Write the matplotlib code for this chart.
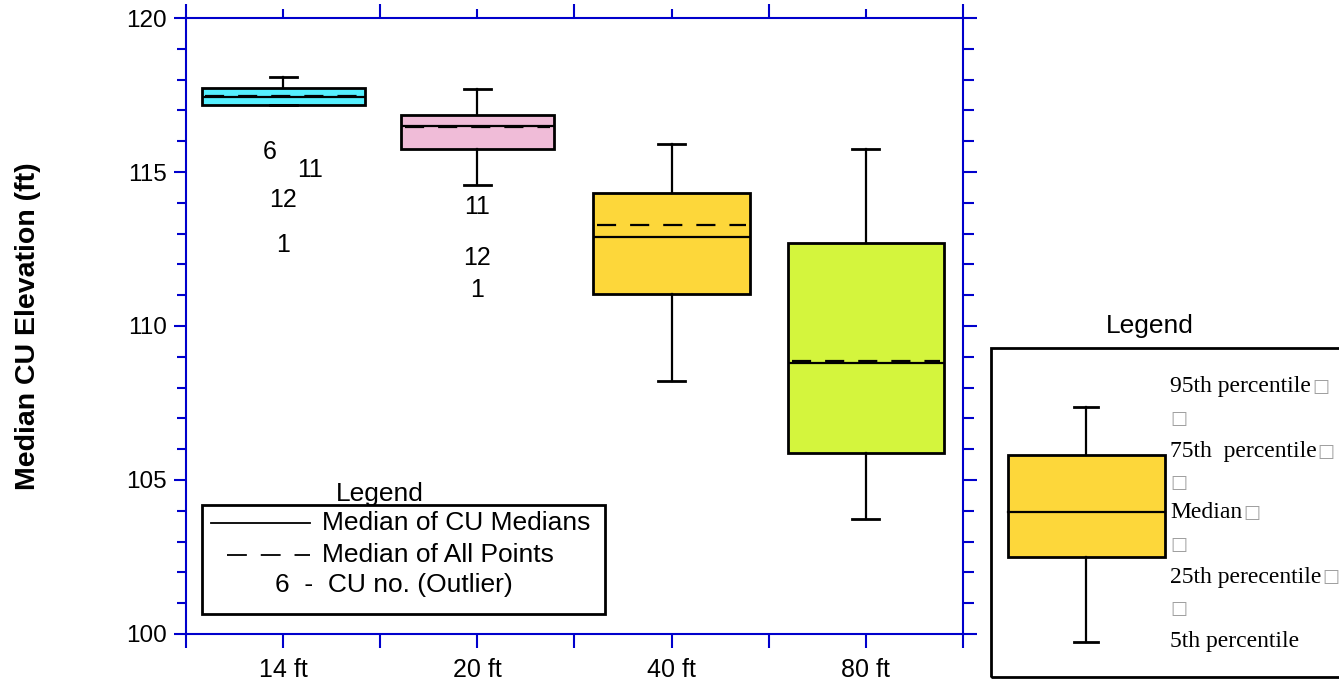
import numpy as np
import matplotlib.pyplot as plt
from matplotlib.patches import Rectangle
from matplotlib.lines import Line2D

# Median CU elevation statistics per spacing
categories = ["14 ft", "20 ft", "40 ft", "80 ft"]
p5 = [117.18, 114.58, 108.21, 103.73]
p25 = [117.18, 115.75, 111.04, 105.88]
median_cu = [117.44, 116.49, 112.89, 108.80]
median_all = [117.46, 116.46, 113.28, 108.86]
p75 = [117.73, 116.85, 114.32, 112.69]
p95 = [118.08, 117.69, 115.91, 115.75]
box_colors = ["#55F0FF", "#F0BCD8", "#FDD73A", "#D4F53D"]
box_widths = [0.84, 0.79, 0.81, 0.80]

# Outlying CUs: (category index, CU number, elevation)
outlier_cat = [0, 0, 0, 0, 1, 1, 1]
outlier_cu = ["6", "11", "12", "1", "11", "12", "1"]
outlier_val = [115.65, 115.06, 114.09, 112.63, 113.86, 112.21, 111.17]
outlier_dx = [-0.07, 0.14, 0.0, 0.0, 0.0, 0.0, 0.0]

blue = "#0000CC"
plt.rcParams["font.family"] = ["Liberation Sans", "DejaVu Sans"]

fig = plt.figure(figsize=(13.39, 6.85), dpi=100)
ax = fig.add_axes([0.1389, 0.0745, 0.5803, 0.8992])

pos = np.arange(1, len(categories) + 1)
stats = []
for i in range(len(categories)):
    stats.append(dict(med=median_cu[i], q1=p25[i], q3=p75[i],
                      whislo=p5[i], whishi=p95[i], fliers=[]))
bp = ax.bxp(stats, positions=pos, widths=box_widths, patch_artist=True,
            showfliers=False, capwidths=0.14,
            boxprops=dict(linewidth=2, edgecolor="black"),
            medianprops=dict(color="black", linewidth=1.6),
            whiskerprops=dict(color="black", linewidth=1.6),
            capprops=dict(color="black", linewidth=2))
for patch, c in zip(bp["boxes"], box_colors):
    patch.set_facecolor(c)

# median of all points
half = np.array(box_widths) / 2 - 0.02
ax.hlines(median_all, pos - half, pos + half, colors="black",
          linestyles=(0, (8.6, 6.3)), linewidth=1.6, zorder=4)

for ci, lab, v, dx in zip(outlier_cat, outlier_cu, outlier_val, outlier_dx):
    ax.text(pos[ci] + dx, v, lab, ha="center", va="center", fontsize=18)

ax.set_xlim(0.5, 4.5)
ax.set_ylim(100, 120)
ax.set_xticks(pos)
ax.set_xticklabels(categories, fontsize=18)
ax.set_xticks(np.arange(0.5, 4.6, 0.5), minor=True)
ax.set_yticks(np.arange(100, 121, 5))
ax.set_yticks(np.arange(100, 121, 1), minor=True)
ax.tick_params(axis="y", labelsize=17.5)
ax.tick_params(which="both", direction="out", color=blue, width=1.5)
ax.tick_params(axis="x", which="both", length=10, pad=7)
ax.tick_params(axis="y", which="major", length=9, pad=5)
ax.tick_params(axis="y", which="minor", length=6.5)
for s in ax.spines.values():
    s.set_color(blue)
    s.set_linewidth(1.5)

top = ax.secondary_xaxis("top")
top.set_xticks(np.arange(0.5, 4.6, 1.0))
top.set_xticks(pos, minor=True)
top.tick_params(which="major", length=10, direction="out", color=blue, width=1.5, labeltop=False)
top.tick_params(which="minor", length=6.5, direction="out", color=blue, width=1.5)
top.spines["top"].set_visible(False)

right = ax.secondary_yaxis("right")
right.set_yticks(np.arange(100, 121, 5))
right.set_yticks(np.arange(100, 121, 1), minor=True)
right.tick_params(which="major", length=10, direction="out", color=blue, width=1.5, labelright=False)
right.tick_params(which="minor", length=8, direction="out", color=blue, width=1.5)
right.spines["right"].set_visible(False)

ax.set_ylabel("Median CU Elevation (ft)", fontsize=20.5, fontweight="bold")
ax.yaxis.set_label_coords(-0.186, 0.5)

# legend for the median lines and outlier labels
ax.text(1.5, 104.55, "Legend", ha="center", va="center", fontsize=19)
ax.add_patch(Rectangle((0.585, 100.65), 2.07, 3.55, fill=False, edgecolor="black", linewidth=2))
ax.plot([0.63, 1.14], [103.6, 103.6], color="black", linewidth=1.3)
ax.plot([0.71, 1.14], [102.55, 102.55], color="black", linewidth=1.3, linestyle=(0, (11, 7.7)))
ax.text(1.2, 103.6, "Median of CU Medians", va="center", fontsize=19)
ax.text(1.2, 102.55, "Median of All Points", va="center", fontsize=19)
ax.text(0.96, 101.6, "6  -  CU no. (Outlier)", va="center", fontsize=19)

# legend explaining the box plot elements
W, H = 1339, 685
fx = lambda px: px / W
fy = lambda py: 1 - py / H
fig.text(fx(1150), fy(326), "Legend", ha="center", va="center", fontsize=19)
fig.patches.append(Rectangle((fx(991), fy(677)), fx(360), 329 / H,
                             transform=fig.transFigure, fill=False,
                             edgecolor="black", linewidth=2))
lx0, lx1, xc = fx(1008), fx(1165), fx(1086)
fig.patches.append(Rectangle((lx0, fy(557)), lx1 - lx0, fy(455) - fy(557),
                             transform=fig.transFigure, facecolor="#FDD73A",
                             edgecolor="black", linewidth=2))
for a, b in [(fy(407), fy(455)), (fy(557), fy(642))]:
    fig.lines.append(Line2D([xc, xc], [a, b], transform=fig.transFigure, color="black", linewidth=1.6))
for yy in [fy(407), fy(642)]:
    fig.lines.append(Line2D([xc - 0.009, xc + 0.009], [yy, yy], transform=fig.transFigure,
                            color="black", linewidth=2))
fig.lines.append(Line2D([lx0, lx1], [fy(512), fy(512)], transform=fig.transFigure,
                        color="black", linewidth=1.6))

legend_lines = ["95th percentile", "", "75th  percentile", "", "Median", "",
                "25th perecentile", "", "5th percentile"]
legend_y = [387, 419, 452, 483, 513, 545, 577, 609, 641]
serif = ["Liberation Serif", "DejaVu Serif"]
renderer = fig.canvas.get_renderer()
for txt, py in zip(legend_lines, legend_y):
    x_end = 1170
    if txt:
        t = fig.text(fx(1170), fy(py), txt, va="center", fontsize=17, family=serif)
        x_end = t.get_window_extent(renderer).x1 + 1
    if txt != "5th percentile":
        # placeholder glyph box drawn after each line
        fig.text(fx(x_end), fy(py), "\u25a1", va="center", fontsize=13,
                 color="#A0A0A0", family=["DejaVu Sans"])

fig.savefig("out.png", dpi=100)
